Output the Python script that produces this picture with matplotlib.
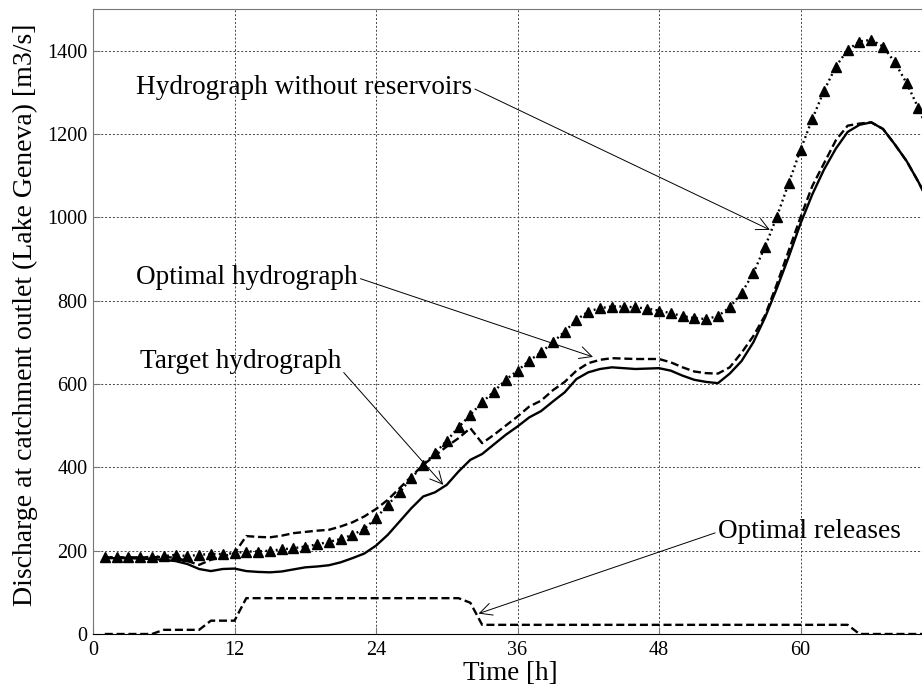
"""Hydrographs at Lake Geneva: natural, target, optimal, and reservoir releases."""
import matplotlib
matplotlib.use("Agg")
import matplotlib.pyplot as plt

# hourly values, t = 1..71 h
hours = list(range(1, 72))

natural = [184, 184, 184, 184, 185, 187, 190, 187, 190, 192,
           192, 194, 198, 198, 200, 203, 206, 210, 215, 221,
           228, 238, 252, 278, 310, 340, 374, 406, 434, 464,
           496, 526, 556, 582, 610, 632, 656, 676, 700, 726,
           754, 774, 782, 786, 786, 784, 781, 776, 770, 763,
           758, 756, 763, 784, 818, 866, 930, 1002, 1082, 1162,
           1236, 1304, 1362, 1402, 1422, 1426, 1410, 1372, 1322, 1262,
           1195]

target = [182, 182, 182, 181, 180, 178, 175, 168, 156, 151,
          156, 157, 151, 149, 148, 150, 155, 160, 162, 165,
          172, 182, 193, 212, 238, 270, 302, 330, 340, 358,
          390, 418, 432, 455, 478, 498, 520, 535, 558, 580,
          612, 628, 636, 640, 638, 636, 637, 638, 632, 620,
          610, 605, 602, 625, 655, 700, 760, 830, 905, 985,
          1055, 1115, 1165, 1205, 1222, 1228, 1212, 1175, 1135, 1085,
          1030]

optimal = [184, 184, 184, 184, 184, 185, 183, 175, 166, 178,
           186, 194, 235, 233, 232, 236, 242, 245, 248, 250,
           258, 268, 282, 300, 322, 350, 378, 406, 428, 450,
           470, 494, 458, 478, 500, 522, 546, 560, 585, 605,
           632, 650, 658, 662, 661, 660, 660, 660, 652, 640,
           630, 626, 625, 640, 675, 715, 765, 840, 920, 1000,
           1075, 1130, 1185, 1220, 1225, 1228, 1212, 1175, 1135, 1085,
           1030]

releases = [0, 0, 0, 0, 0, 10, 10, 10, 10, 32,
            32, 32, 86, 86, 86, 86, 86, 86, 86, 86,
            86, 86, 86, 86, 86, 86, 86, 86, 86, 86,
            86, 75, 22, 22, 22, 22, 22, 22, 22, 22,
            22, 22, 22, 22, 22, 22, 22, 22, 22, 22,
            22, 22, 22, 22, 22, 22, 22, 22, 22, 22,
            22, 22, 22, 22, 0, 0, 0, 0, 0, 0,
            0]

x_ticks = [0, 12, 24, 36, 48, 60]
y_ticks = [0, 200, 400, 600, 800, 1000, 1200, 1400]

FONT = ["Liberation Serif", "DejaVu Serif"]


def main() -> None:
    plt.rcParams["font.family"] = FONT
    fig = plt.figure(figsize=(9.22, 6.87), dpi=100)
    ax = fig.add_axes([93 / 922, 53 / 687, 849 / 922, 625 / 687])

    lw = 1.7
    ax.plot(hours, natural, color="black", lw=lw, ls=(0, (0.8, 1.4)),
            marker="^", ms=6.5, markevery=1)
    ax.plot(hours, target, color="black", lw=lw, ls="-")
    ax.plot(hours, optimal, color="black", lw=lw, ls=(0, (3.4, 1.6)))
    ax.plot(hours, releases, color="black", lw=lw, ls=(0, (3.4, 1.6)))

    ax.set_xlim(0, 72)
    ax.set_ylim(0, 1500)
    ax.set_xticks(x_ticks)
    ax.set_yticks(y_ticks)
    ax.grid(True, color="#444444", lw=0.7, ls=(0, (2, 2)))
    ax.tick_params(direction="in", length=5, width=0.8, color="#777777",
                   labelsize=14.5, pad=4)
    ax.tick_params(axis="x", pad=5)
    for side in ("left", "top", "right"):
        ax.spines[side].set_color("#777777")
    ax.spines["bottom"].set_color("black")

    ax.set_xlabel("Time [h]", fontsize=19.5)
    ax.xaxis.set_label_coords(0.491, -0.043)
    ax.set_ylabel("Discharge at catchment outlet (Lake Geneva) [m3/s]", fontsize=20)
    ax.yaxis.set_label_coords(-0.065, 0.51)

    arrow = dict(arrowstyle="->", color="black", lw=0.7, shrinkA=0, shrinkB=0,
                 mutation_scale=22)
    notes = [
        ("Hydrograph without reservoirs", (57.4, 970), (3.65, 1311), (1, 0.5)),
        ("Optimal hydrograph", (42.4, 665), (3.65, 855), (1, 0.5)),
        ("Target hydrograph", (29.7, 358), (3.95, 653), (1, 0.2)),
        ("Optimal releases", (32.7, 49), (53.0, 245), (0, 0.5)),
    ]
    for text, xy, xytext, rel in notes:
        ax.annotate(text, xy=xy, xytext=xytext, fontsize=19.6, ha="left", va="center",
                    arrowprops=dict(arrow, relpos=rel))

    fig.savefig("out.png", dpi=100)
    plt.close(fig)


if __name__ == "__main__":
    main()
